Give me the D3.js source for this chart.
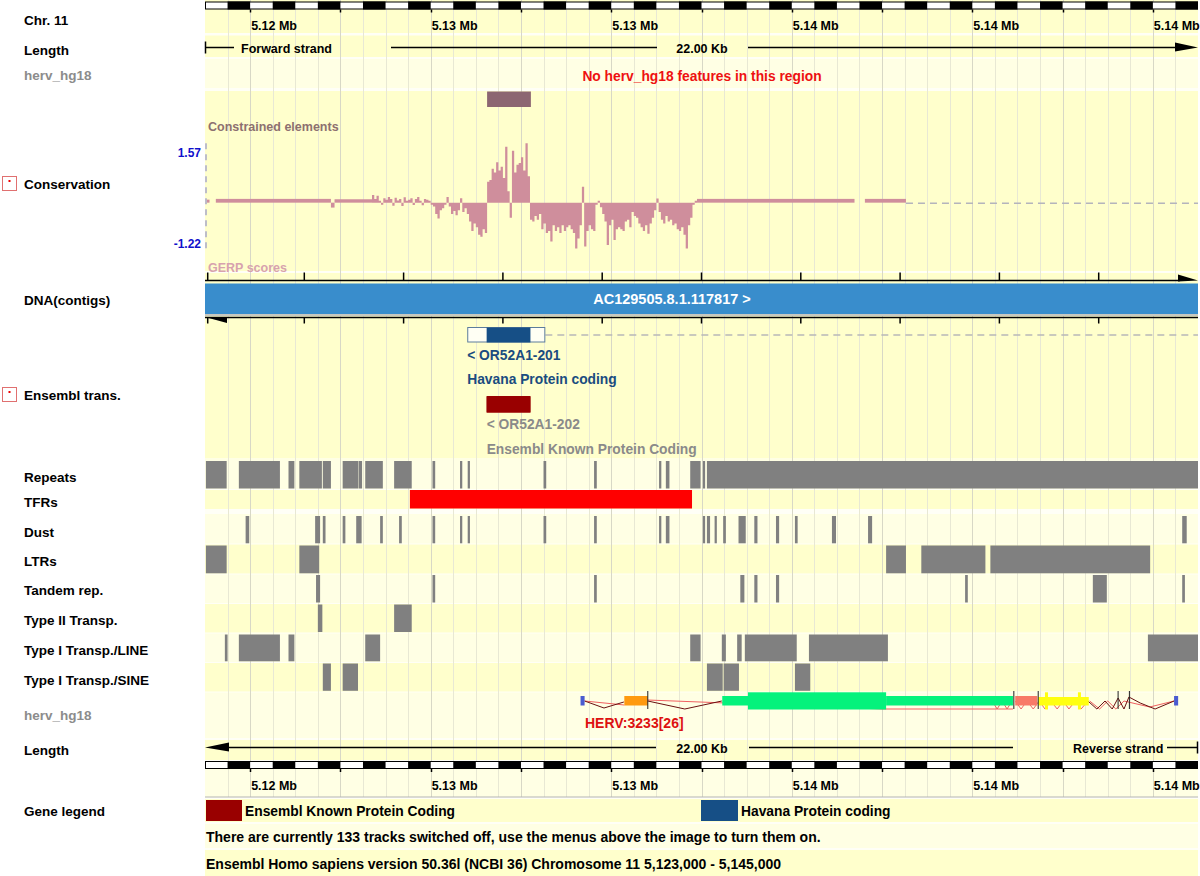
<!DOCTYPE html>
<html><head><meta charset="utf-8">
<script src="https://cdn.jsdelivr.net/npm/d3@7"></script>
<style>
body{margin:0;background:#fff}
svg{display:block}
text{font-family:"Liberation Sans",Arial,sans-serif;font-weight:bold}
</style>
</head><body>
<svg id="c" width="1200" height="876"></svg>
<script>
// ---------------- DATA ----------------
const regionStart = 5123000, regionEnd = 5145000;
const rulerLabelPos = [5124000, 5128000, 5132000, 5136000, 5140000, 5144000];
const rulerLabels = ["5.12 Mb", "5.13 Mb", "5.13 Mb", "5.14 Mb", "5.14 Mb", "5.14 Mb"];
const trackNames = ["Chr. 11","Length","herv_hg18","Conservation","DNA(contigs)","Ensembl trans.","Repeats","TFRs","Dust","LTRs","Tandem rep.","Type II Transp.","Type I Transp./LINE","Type I Transp./SINE","herv_hg18","Length","Gene legend"];
const gerpMax = 1.57, gerpMin = -1.22;
const constrained = [[5129250, 5130220]];
const gerpFineStart = 5126700, gerpStep = 50;
const gerpFine = [
 0.2,0.1,0.18,0.05,-0.05,0.12,0.08,0.15,0.1,-0.08,0.13,0.06,0.1,-0.09,0.14,0.05,0.08,0.12,-0.06,0.1,0.15,0.04,-0.07,0.1,0.08,0.05,
 -0.05,-0.1,-0.3,-0.42,-0.2,-0.15,-0.05,0.15,-0.1,-0.3,-0.22,-0.33,-0.2,0.12,-0.25,-0.15,-0.3,-0.5,-0.75,-0.55,
 -0.65,-0.85,-0.9,-0.7,-0.8,0.55,0.6,0.9,0.8,1.07,0.85,0.95,0.65,1.48,0.3,-0.4,1.37,0.8,1.0,1.05,
 1.2,0.85,1.57,0.7,-0.45,-0.5,-0.35,-0.45,-0.3,-0.7,-0.55,-0.8,-0.75,-1.03,-0.6,-0.75,-0.65,-0.8,-0.6,-0.75,
 -0.65,-0.6,-0.7,-0.8,-1.21,-0.95,-0.6,0.42,-1.16,-0.75,-0.6,-0.7,-0.75,-0.05,0.02,-0.12,-0.3,-0.5,-1.12,-0.6,
 -0.45,-0.99,-0.7,-0.65,-0.7,-0.75,-0.5,-0.45,-0.65,-0.25,-0.35,-0.4,-0.55,-0.65,-0.75,-0.6,-0.82,-0.55,-0.4,-0.2,
 0.11,-0.25,-0.45,-0.55,-0.35,-0.5,-0.45,-0.6,-0.55,-0.7,-0.75,-0.65,-0.85,-1.21,-0.6,-0.4,-0.05,0.03
];
const gerpFlat = [[5123040,5123100,0.08],[5123240,5125790,0.1],[5125790,5125870,-0.13],[5125870,5126700,0.09],[5133900,5137390,0.1],[5137620,5138530,0.1]];
const contigName = "AC129505.8.1.117817 >";
const contigTicks = [5123060,5125200,5127400,5129600,5131800,5134000,5136200,5138400,5140600,5142800];
const transcripts = [
 {name:"< OR52A1-201", type:"Havana Protein coding", start:5128810, end:5130540, cds:[5129240,5130210], utrDash:true},
 {name:"< OR52A1-202", type:"Ensembl Known Protein Coding", start:5129240, end:5130210, cds:[5129240,5130210], utrDash:false}
];
const repeats = [[5123020,5123480],[5123750,5124660],[5124850,5124980],[5125090,5125590],[5125610,5125790],[5126050,5126390],[5126400,5126480],[5126550,5126940],[5127190,5127580],[5128040,5128100],[5128650,5128700],[5128820,5128870],[5130500,5130560],[5131620,5131680],[5133060,5133110],[5133210,5133290],[5133750,5133980],[5134030,5134080],[5134120,5145000]];
const tfrs = [[5127540,5133790]];
const dust = [[5123900,5123980],[5125440,5125550],[5125610,5125670],[5126050,5126110],[5126350,5126470],[5126880,5126940],[5127300,5127360],[5128040,5128100],[5128650,5128700],[5128820,5128870],[5130500,5130560],[5131620,5131680],[5133060,5133110],[5133210,5133290],[5134030,5134080],[5134120,5134190],[5134290,5134340],[5134480,5134540],[5134820,5134980],[5135170,5135240],[5135650,5135720],[5136070,5136130],[5136890,5136980],[5137690,5137780],[5144650,5144750]];
const ltrs = [[5123020,5123480],[5125090,5125530],[5138090,5138530],[5138870,5140290],[5140400,5143940]];
const tandem = [[5125460,5125550],[5128040,5128100],[5131620,5131680],[5134860,5134950],[5135170,5135240],[5135650,5135720],[5139840,5139900],[5142670,5142980],[5144650,5144710]];
const typeII = [[5125500,5125600],[5127190,5127580]];
const lineRep = [[5123440,5123500],[5123750,5124660],[5124850,5124980],[5126550,5126880],[5133750,5133980],[5134450,5134540],[5134790,5134890],[5134960,5136110],[5136380,5138130],[5143890,5145000]];
const sineRep = [[5125610,5125790],[5126050,5126390],[5134120,5134470],[5134490,5134830],[5136070,5136410]];
const hervLabel = "HERV:3233[26]";
// [start, end, colour class, half-height class]
const hervBlocks = [
 [5131320,5131410,"blue","m"],[5132290,5132810,"orange","m"],[5134460,5135030,"green","m"],
 [5135030,5138090,"green","t"],[5138090,5140900,"green","m"],[5140950,5141440,"salmon","m"],
 [5141460,5142580,"yellow","s"],[5141610,5141660,"yellow","t"],[5142340,5142390,"yellow","t"],[5144470,5144560,"blue","m"]
];
const hervTicks = [5132810,5140920,5141460,5143230,5143480];
const hervDark = [
 [[5131410,0],[5131840,7],[5132280,1]],
 [[5132810,0],[5133630,8],[5134450,0]],
 [[5142560,0],[5142760,8],[5142940,0],[5143100,8],[5143230,-3],[5143360,8],[5143470,-4],[5143720,2],[5144050,8],[5144470,0]]
];
const hervLight = [
 [[5131410,0],[5132290,4]],
 [[5132810,-1],[5138000,8],[5140900,8]],
 [[5140440,0],[5140550,8],[5140660,0],[5140770,8],[5140880,0]],
 [[5140950,0],[5141080,8],[5141210,0],[5141350,8],[5141480,0],[5141610,8],[5141740,0],[5141880,8],[5142010,0],[5142140,8],[5142280,0],[5142410,8],[5142560,0]],
 [[5142600,0],[5142820,8],[5143000,0],[5143180,8],[5143360,0],[5143930,6],[5144470,0]]
];
const legendItems = [["Ensembl Known Protein Coding","#990000"],["Havana Protein coding","#164f86"]];
const footer1 = "There are currently 133 tracks switched off, use the menus above the image to turn them on.";
const footer2 = "Ensembl Homo sapiens version 50.36l (NCBI 36) Chromosome 11 5,123,000 - 5,145,000";

// ---------------- DRAW ----------------
const svg = d3.select("#c");
const PX0 = 205, PX1 = 1198;
const x = d3.scaleLinear().domain([regionStart, regionEnd]).range([PX0, PX1]);
const D = "#ffffcc", L = "#ffffe4", W = "#fffff6";
const FS = "12.5px", FL = "13.8px";

svg.append("rect").attr("x",PX0).attr("y",0).attr("width",PX1-PX0).attr("height",876).attr("fill",D);
const lightRows = [[59,88],[458,489],[513,544],[574,604],[633,663],[692,739],[761,797],[823,849]];
svg.selectAll(".lr").data(lightRows).join("rect").attr("x",PX0).attr("width",PX1-PX0)
  .attr("y",d=>d[0]).attr("height",d=>d[1]-d[0]).attr("fill",L);
const sepRows = [[33,35.5],[57,59],[88,91],[271,273],[489,490],[509,514],[543.5,544.5],[573.5,574.5],[603,604],[632.5,633.5],[662,663],[691.5,692.5],[738,740],[760,761],[797,799],[822,824],[848,850]];
svg.selectAll(".sr").data(sepRows).join("rect").attr("x",PX0).attr("width",PX1-PX0)
  .attr("y",d=>d[0]).attr("height",d=>d[1]-d[0]).attr("fill",W);

// gridlines
const grid = d3.range(regionStart+500, regionEnd, 500);
svg.selectAll(".g").data(grid).join("line")
  .attr("x1",d=>Math.round(x(d))+0.5).attr("x2",d=>Math.round(x(d))+0.5)
  .attr("y1",0).attr("y2",797)
  .attr("stroke",d=>((d-regionStart)%2000===1000)?"#d8d8c6":"#e8e8d4").attr("stroke-width",1);

// left labels
const labelY = [20,50,75,184,300,395,477,502,532,561,590,620,650,680,715,750,811];
svg.selectAll(".tl").data(trackNames).join("text")
  .attr("x",24).attr("y",(d,i)=>labelY[i]).attr("dy","0.36em")
  .attr("font-size","13.5px").attr("fill",d=>d==="herv_hg18"?"#8c8c8c":"#000").text(d=>d);
[184,395].forEach(cy=>{
  svg.append("rect").attr("x",2.5).attr("y",cy-7.5).attr("width",14).attr("height",14)
    .attr("fill","#fff").attr("stroke","#e07070").attr("stroke-width",1);
  svg.append("rect").attr("x",8.5).attr("y",cy-4).attr("width",2).attr("height",2).attr("fill","#e00");
});

// rulers
function ruler(y0, labelY){
  svg.append("rect").attr("x",PX0+0.5).attr("y",y0+0.5).attr("width",PX1-PX0-1).attr("height",7)
    .attr("fill","#fff").attr("stroke","#000");
  const blocks = d3.range(regionStart+500, regionEnd, 1000);
  svg.selectAll(null).data(blocks).join("rect")
    .attr("x",d=>x(d)).attr("width",d=>x(Math.min(d+500,regionEnd))-x(d))
    .attr("y",y0).attr("height",8).attr("fill","#000");
  const ticks = d3.range(regionStart+1000, regionEnd, 2000);
  svg.selectAll(null).data(ticks).join("line")
    .attr("x1",d=>Math.round(x(d))+0.5).attr("x2",d=>Math.round(x(d))+0.5)
    .attr("y1",y0+8).attr("y2",y0+11).attr("stroke","#000").attr("stroke-width",1.5);
  svg.selectAll(null).data(rulerLabels).join("text")
    .attr("x",(d,i)=>x(rulerLabelPos[i])+1).attr("y",labelY).attr("dy","0.36em")
    .attr("font-size",FS).text(d=>d);
}
ruler(1.5, 25);
ruler(761, 785);
svg.append("line").attr("x1",PX0).attr("x2",PX1).attr("y1",797).attr("y2",797).attr("stroke","#b4b4b4");

// Length tracks
function lengthTrack(y, forward){
  const g = svg.append("g").attr("stroke","#000").attr("stroke-width",1.5);
  if(forward){
    g.append("line").attr("x1",PX0+0.5).attr("x2",PX0+0.5).attr("y1",y-6).attr("y2",y+6);
    g.append("line").attr("x1",PX0).attr("x2",234).attr("y1",y).attr("y2",y);
    g.append("line").attr("x1",391).attr("x2",657).attr("y1",y).attr("y2",y);
    g.append("line").attr("x1",748).attr("x2",1178).attr("y1",y).attr("y2",y);
    svg.append("path").attr("d",`M1175,${y-5}L1198,${y}L1175,${y+4}Z`).attr("fill","#000");
    svg.append("text").attr("x",241).attr("y",y).attr("dy","0.4em").attr("font-size",FS).text("Forward strand");
  } else {
    svg.append("path").attr("d",`M205,${y}L229,${y-5}L229,${y+4}Z`).attr("fill","#000");
    g.append("line").attr("x1",229).attr("x2",656).attr("y1",y).attr("y2",y);
    g.append("line").attr("x1",749).attr("x2",1013).attr("y1",y).attr("y2",y);
    g.append("line").attr("x1",1167).attr("x2",PX1).attr("y1",y).attr("y2",y);
    g.append("line").attr("x1",PX1-0.5).attr("x2",PX1-0.5).attr("y1",y-6).attr("y2",y+6);
    svg.append("text").attr("x",1073).attr("y",y).attr("dy","0.4em").attr("font-size",FS).text("Reverse strand");
  }
  svg.append("text").attr("x",702).attr("y",y).attr("dy","0.4em").attr("text-anchor","middle").attr("font-size",FS)
    .text(((regionEnd-regionStart)/1000).toFixed(2)+" Kb");
}
lengthTrack(47.5, true);
lengthTrack(747.5, false);

svg.append("text").attr("x",702).attr("y",76).attr("dy","0.36em").attr("text-anchor","middle")
  .attr("font-size",FL).attr("fill","#ee1111").text("No herv_hg18 features in this region");

// Conservation
svg.selectAll(".ce").data(constrained).join("rect")
  .attr("x",d=>x(d[0])).attr("width",d=>x(d[1])-x(d[0])).attr("y",91.5).attr("height",15.5).attr("fill","#8c6672");
svg.append("text").attr("x",208).attr("y",126).attr("dy","0.36em").attr("font-size",FS).attr("fill","#8d7070").text("Constrained elements");
const yG = d3.scaleLinear().domain([gerpMin,gerpMax]).range([248.8,143.3]);
const fineSeries = gerpFine.map((v,i)=>[gerpFineStart+i*gerpStep, v]);
fineSeries.push([gerpFineStart+gerpFine.length*gerpStep, gerpFine[gerpFine.length-1]]);
const gArea = d3.area().curve(d3.curveStepAfter).x(d=>x(d[0])).y0(yG(0))
  .y1(d=>{const y=yG(d[1]); return Math.abs(y-yG(0))<2 ? yG(0)-(d[1]>=0?2:-2) : y;});
svg.append("path").attr("d",gArea(fineSeries)).attr("fill","#cf8e9c");
svg.selectAll(".gb").data(gerpFlat).join("rect")
  .attr("x",d=>x(d[0])).attr("width",d=>x(d[1])-x(d[0]))
  .attr("y",d=>Math.min(yG(0),yG(d[2]))).attr("height",d=>Math.max(2,Math.abs(yG(d[2])-yG(0))))
  .attr("fill","#cf8e9c");
svg.append("line").attr("x1",x(5138530)).attr("x2",PX1).attr("y1",yG(0)+0.5).attr("y2",yG(0)+0.5)
  .attr("stroke","#b4b4bc").attr("stroke-width",1.5).attr("stroke-dasharray","7,5");
svg.append("line").attr("x1",206).attr("x2",206).attr("y1",yG(gerpMax)).attr("y2",yG(gerpMin))
  .attr("stroke","#a8a8c8").attr("stroke-width",1.5).attr("stroke-dasharray","6,5");
svg.append("text").attr("x",201).attr("y",153).attr("dy","0.36em").attr("text-anchor","end").attr("font-size","12px").attr("fill","#1010cc").text(gerpMax.toFixed(2));
svg.append("text").attr("x",201).attr("y",244).attr("dy","0.36em").attr("text-anchor","end").attr("font-size","12px").attr("fill","#1010cc").text(gerpMin.toFixed(2));
svg.append("text").attr("x",208).attr("y",267).attr("dy","0.36em").attr("font-size",FS).attr("fill","#d7a2ae").text("GERP scores");

// DNA contigs
svg.append("line").attr("x1",PX0).attr("x2",1180).attr("y1",280.5).attr("y2",280.5).attr("stroke","#000").attr("stroke-width",1.5);
svg.append("path").attr("d","M1178,274.5L1198,280.5L1178,281.5Z").attr("fill","#000");
svg.selectAll(".ct").data(contigTicks).join("line")
  .attr("x1",d=>x(d)).attr("x2",d=>x(d)).attr("y1",272.5).attr("y2",280.5).attr("stroke","#000").attr("stroke-width",1.5);
svg.append("rect").attr("x",PX0).attr("y",283.5).attr("width",PX1-PX0).attr("height",30.5).attr("fill","#398dcc");
svg.append("rect").attr("x",PX0).attr("y",314).attr("width",PX1-PX0).attr("height",2).attr("fill","#c8c8c0");
svg.append("text").attr("x",672).attr("y",299).attr("dy","0.36em").attr("text-anchor","middle").attr("font-size","14.5px").attr("fill","#fff").text(contigName);
svg.append("line").attr("x1",PX0).attr("x2",PX1).attr("y1",317.5).attr("y2",317.5).attr("stroke","#000").attr("stroke-width",1.5);
svg.append("path").attr("d","M205,317L227,317L227,323Z").attr("fill","#000");
svg.selectAll(".cb").data(contigTicks).join("line")
  .attr("x1",d=>x(d)).attr("x2",d=>x(d)).attr("y1",317.5).attr("y2",323.5).attr("stroke","#000").attr("stroke-width",1.5);

// Ensembl transcripts
const tY = [[327.5,342],[396.5,412]];
const tTextY = [[355,379],[424,449]];
transcripts.forEach((t,i)=>{
  const col = i===0 ? "#164f86" : "#990000";
  const tcol = i===0 ? "#1a4c80" : "#8a8a8a";
  if(t.utrDash){
    svg.append("line").attr("x1",x(t.end)).attr("x2",PX1).attr("y1",335).attr("y2",335)
      .attr("stroke","#b8b8b8").attr("stroke-width",1.5).attr("stroke-dasharray","7,5");
  }
  svg.append("rect").attr("x",x(t.start)+0.5).attr("y",tY[i][0]).attr("width",x(t.end)-x(t.start)-1).attr("height",tY[i][1]-tY[i][0])
    .attr("fill","#fffff4").attr("stroke",i===0?"#5c7c9c":col).attr("stroke-width",1);
  svg.append("rect").attr("x",x(t.cds[0])).attr("y",tY[i][0]).attr("width",x(t.cds[1])-x(t.cds[0])).attr("height",tY[i][1]-tY[i][0]+0.5).attr("fill",col);
  svg.append("text").attr("x",x(t.start)).attr("y",tTextY[i][0]).attr("dy","0.36em").attr("font-size",FL).attr("fill",tcol).text(t.name);
  svg.append("text").attr("x",x(t.start)).attr("y",tTextY[i][1]).attr("dy","0.36em").attr("font-size",FL).attr("fill",tcol).text(t.type);
});

// feature tracks
function featTrack(data, y0, y1, col){
  svg.selectAll(null).data(data).join("rect")
    .attr("x",d=>x(d[0])).attr("width",d=>Math.max(2,x(d[1])-x(d[0])))
    .attr("y",y0).attr("height",y1-y0).attr("fill",col);
}
featTrack(repeats, 461, 488.5, "#808080");
featTrack(tfrs, 490, 508.5, "#ff0000");
featTrack(dust, 516, 543.3, "#808080");
featTrack(ltrs, 545.5, 573.3, "#808080");
featTrack(tandem, 575, 602.5, "#808080");
featTrack(typeII, 604.5, 632, "#808080");
featTrack(lineRep, 634.5, 661.3, "#808080");
featTrack(sineRep, 663.5, 690.8, "#808080");

// herv_hg18 bottom
const hc = 701;
const colMap = {blue:"#4a5bd0",orange:"#ff9a10",green:"#05f27c",salmon:"#f87a68",yellow:"#ffff10"};
const hMap = {s:[-4,4.5],m:[-5,4.5],t:[-8.7,8.5]};
const line = d3.line().x(d=>x(d[0])).y(d=>hc+d[1]);
svg.selectAll(".hl").data(hervLight).join("path").attr("d",line).attr("fill","none").attr("stroke","#f06060").attr("stroke-width",1);
svg.selectAll(".hd").data(hervDark).join("path").attr("d",line).attr("fill","none").attr("stroke","#6a1010").attr("stroke-width",1);
svg.selectAll(".hb").data(hervBlocks).join("rect")
  .attr("x",d=>x(d[0])).attr("width",d=>Math.max(3,x(d[1])-x(d[0])))
  .attr("y",d=>hc+hMap[d[3]][0]).attr("height",d=>hMap[d[3]][1]-hMap[d[3]][0]).attr("fill",d=>colMap[d[2]]);
svg.selectAll(".ht").data(hervTicks).join("line")
  .attr("x1",d=>x(d)).attr("x2",d=>x(d)).attr("y1",hc-10).attr("y2",hc+8).attr("stroke","#222").attr("stroke-width",1);
svg.append("text").attr("x",585).attr("y",723).attr("dy","0.36em").attr("font-size","14px").attr("fill","#dd1111").text(hervLabel);

// legend
const legX = [[206,242,245],[701,738,741]];
legendItems.forEach((d,i)=>{
  svg.append("rect").attr("x",legX[i][0]).attr("y",800).attr("width",legX[i][1]-legX[i][0]).attr("height",21).attr("fill",d[1]);
  svg.append("text").attr("x",legX[i][2]).attr("y",811).attr("dy","0.36em").attr("font-size","13.8px").text(d[0]);
});
svg.append("text").attr("x",206).attr("y",836.5).attr("dy","0.36em").attr("font-size","14px").text(footer1);
svg.append("text").attr("x",206).attr("y",864).attr("dy","0.36em").attr("font-size","14px").text(footer2);
</script>
</body></html>
